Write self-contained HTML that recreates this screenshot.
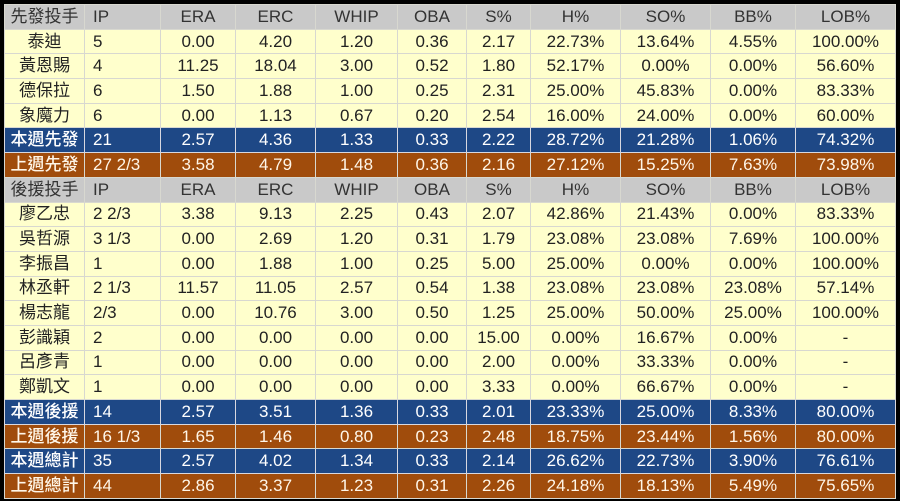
<!DOCTYPE html><html><head><meta charset="utf-8"><style>
body{margin:0;background:#000;width:900px;height:501px;overflow:hidden}
table{position:absolute;left:4px;top:4px;width:891px;border-collapse:collapse;table-layout:fixed;font-family:"Liberation Sans","Noto Sans CJK TC",sans-serif;font-size:17px}
td{height:23.7px;padding:0;border:1px solid #d8d8d0;text-align:center;white-space:nowrap;color:#222;background:#ffffcc;line-height:22px}
td:nth-child(2){text-align:left;padding-left:8px}
tr.h td{background:#c9c9c9;color:#333}
tr.b td{background:#1e4886;color:#fff;border-color:#d8d8e0}
tr.r td{background:#a04c0c;color:#fff6e8}
tr.b td:first-child,tr.r td:first-child{font-weight:500}
</style></head><body><table>
<colgroup><col style="width:80px"><col style="width:76px"><col style="width:75px"><col style="width:80px"><col style="width:82px"><col style="width:69px"><col style="width:64px"><col style="width:90px"><col style="width:90px"><col style="width:85px"><col style="width:100px"></colgroup>
<tr class="h"><td>先發投手</td><td>IP</td><td>ERA</td><td>ERC</td><td>WHIP</td><td>OBA</td><td>S%</td><td>H%</td><td>SO%</td><td>BB%</td><td>LOB%</td></tr>
<tr><td>泰迪</td><td>5</td><td>0.00</td><td>4.20</td><td>1.20</td><td>0.36</td><td>2.17</td><td>22.73%</td><td>13.64%</td><td>4.55%</td><td>100.00%</td></tr>
<tr><td>黃恩賜</td><td>4</td><td>11.25</td><td>18.04</td><td>3.00</td><td>0.52</td><td>1.80</td><td>52.17%</td><td>0.00%</td><td>0.00%</td><td>56.60%</td></tr>
<tr><td>德保拉</td><td>6</td><td>1.50</td><td>1.88</td><td>1.00</td><td>0.25</td><td>2.31</td><td>25.00%</td><td>45.83%</td><td>0.00%</td><td>83.33%</td></tr>
<tr><td>象魔力</td><td>6</td><td>0.00</td><td>1.13</td><td>0.67</td><td>0.20</td><td>2.54</td><td>16.00%</td><td>24.00%</td><td>0.00%</td><td>60.00%</td></tr>
<tr class="b"><td>本週先發</td><td>21</td><td>2.57</td><td>4.36</td><td>1.33</td><td>0.33</td><td>2.22</td><td>28.72%</td><td>21.28%</td><td>1.06%</td><td>74.32%</td></tr>
<tr class="r"><td>上週先發</td><td>27 2/3</td><td>3.58</td><td>4.79</td><td>1.48</td><td>0.36</td><td>2.16</td><td>27.12%</td><td>15.25%</td><td>7.63%</td><td>73.98%</td></tr>
<tr class="h"><td>後援投手</td><td>IP</td><td>ERA</td><td>ERC</td><td>WHIP</td><td>OBA</td><td>S%</td><td>H%</td><td>SO%</td><td>BB%</td><td>LOB%</td></tr>
<tr><td>廖乙忠</td><td>2 2/3</td><td>3.38</td><td>9.13</td><td>2.25</td><td>0.43</td><td>2.07</td><td>42.86%</td><td>21.43%</td><td>0.00%</td><td>83.33%</td></tr>
<tr><td>吳哲源</td><td>3 1/3</td><td>0.00</td><td>2.69</td><td>1.20</td><td>0.31</td><td>1.79</td><td>23.08%</td><td>23.08%</td><td>7.69%</td><td>100.00%</td></tr>
<tr><td>李振昌</td><td>1</td><td>0.00</td><td>1.88</td><td>1.00</td><td>0.25</td><td>5.00</td><td>25.00%</td><td>0.00%</td><td>0.00%</td><td>100.00%</td></tr>
<tr><td>林丞軒</td><td>2 1/3</td><td>11.57</td><td>11.05</td><td>2.57</td><td>0.54</td><td>1.38</td><td>23.08%</td><td>23.08%</td><td>23.08%</td><td>57.14%</td></tr>
<tr><td>楊志龍</td><td>2/3</td><td>0.00</td><td>10.76</td><td>3.00</td><td>0.50</td><td>1.25</td><td>25.00%</td><td>50.00%</td><td>25.00%</td><td>100.00%</td></tr>
<tr><td>彭識穎</td><td>2</td><td>0.00</td><td>0.00</td><td>0.00</td><td>0.00</td><td>15.00</td><td>0.00%</td><td>16.67%</td><td>0.00%</td><td>-</td></tr>
<tr><td>呂彥青</td><td>1</td><td>0.00</td><td>0.00</td><td>0.00</td><td>0.00</td><td>2.00</td><td>0.00%</td><td>33.33%</td><td>0.00%</td><td>-</td></tr>
<tr><td>鄭凱文</td><td>1</td><td>0.00</td><td>0.00</td><td>0.00</td><td>0.00</td><td>3.33</td><td>0.00%</td><td>66.67%</td><td>0.00%</td><td>-</td></tr>
<tr class="b"><td>本週後援</td><td>14</td><td>2.57</td><td>3.51</td><td>1.36</td><td>0.33</td><td>2.01</td><td>23.33%</td><td>25.00%</td><td>8.33%</td><td>80.00%</td></tr>
<tr class="r"><td>上週後援</td><td>16 1/3</td><td>1.65</td><td>1.46</td><td>0.80</td><td>0.23</td><td>2.48</td><td>18.75%</td><td>23.44%</td><td>1.56%</td><td>80.00%</td></tr>
<tr class="b"><td>本週總計</td><td>35</td><td>2.57</td><td>4.02</td><td>1.34</td><td>0.33</td><td>2.14</td><td>26.62%</td><td>22.73%</td><td>3.90%</td><td>76.61%</td></tr>
<tr class="r"><td>上週總計</td><td>44</td><td>2.86</td><td>3.37</td><td>1.23</td><td>0.31</td><td>2.26</td><td>24.18%</td><td>18.13%</td><td>5.49%</td><td>75.65%</td></tr>
</table></body></html>
